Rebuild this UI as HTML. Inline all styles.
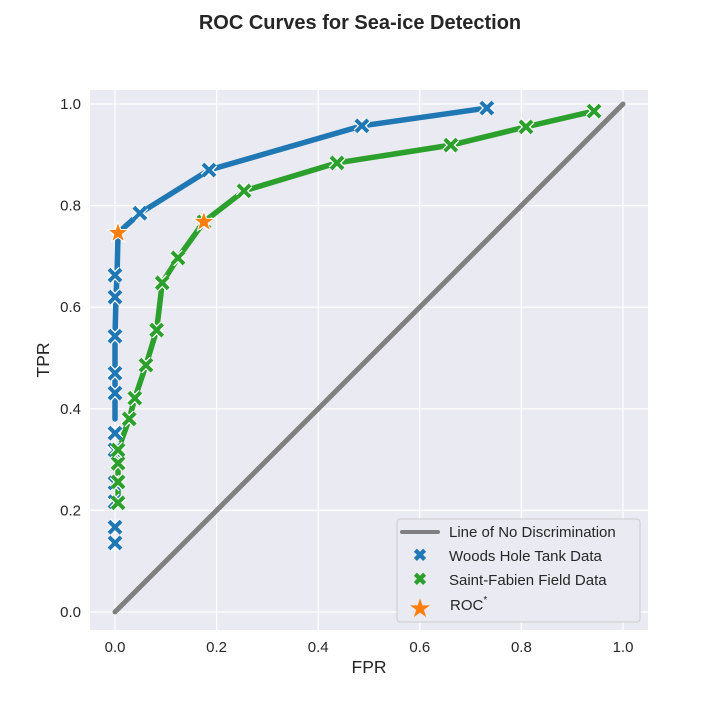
<!DOCTYPE html>
<html><head><meta charset="utf-8"><style>
body{margin:0;background:#fff;}
svg text{font-family:"Liberation Sans",Arial,sans-serif;fill:#262626;}
</style></head><body>
<svg id="chart" width="720" height="720" xmlns="http://www.w3.org/2000/svg">
<text x="360" y="29" text-anchor="middle" font-size="20" font-weight="bold">ROC Curves for Sea-ice Detection</text>
<rect x="90" y="90" width="558" height="540" fill="#eaeaf2"/>
<g id="grid"></g>
<g id="series"></g>
<text x="369" y="673" text-anchor="middle" font-size="17.5">FPR</text>
<text x="49" y="360" text-anchor="middle" font-size="17.5" transform="rotate(-90 49 360)">TPR</text>
<g>
<rect x="397" y="519" width="243" height="103" rx="3" fill="#eaeaf2" stroke="#cccccc" stroke-width="1"/>
<line x1="402" y1="532" x2="438" y2="532" stroke="#808080" stroke-width="4" stroke-linecap="round"/>
<text x="449" y="537" font-size="15">Line of No Discrimination</text>
<text x="420" y="561" text-anchor="middle" font-size="17" font-weight="bold" style="fill:#1f77b4">✖</text>
<text x="449" y="561" font-size="15">Woods Hole Tank Data</text>
<text x="420" y="585" text-anchor="middle" font-size="17" font-weight="bold" style="fill:#2ca02c">✖</text>
<text x="449" y="585" font-size="15">Saint-Fabien Field Data</text>
<text x="420" y="617" text-anchor="middle" font-size="26" style="fill:#ff7f0e">★</text>
<text x="450" y="610" font-size="15">ROC<tspan dy="-7" font-size="10">*</tspan></text>
</g>
</svg>
<script>
const tickValues=[0,0.2,0.4,0.6,0.8,1.0];
const tickLabels=["0.0","0.2","0.4","0.6","0.8","1.0"];
const whLineFPR=[0,0.000,0.002,0.004,0.006,0.049,0.185,0.486,0.732];
const whLineTPR=[0.38,0.543,0.620,0.663,0.746,0.785,0.870,0.957,0.992];
const whFPR=[0,0,0,0,0,0,0,0,0,0,0,0.049,0.185,0.486,0.732];
const whTPR=[0.136,0.167,0.217,0.254,0.319,0.352,0.431,0.470,0.543,0.620,0.663,0.785,0.870,0.957,0.992];
const sfFPR=[0.006,0.006,0.006,0.006,0.028,0.039,0.061,0.082,0.093,0.124,0.175,0.254,0.437,0.661,0.809,0.943];
const sfTPR=[0.215,0.256,0.293,0.319,0.380,0.421,0.486,0.555,0.648,0.697,0.768,0.829,0.884,0.919,0.955,0.986];
const starFPR=[0.006,0.175];
const starTPR=[0.746,0.768];
const X=v=>115+v*508, Y=v=>612-v*508;
const NS="http://www.w3.org/2000/svg";
const grid=document.getElementById('grid'), ser=document.getElementById('series'), svg=document.getElementById('chart');
function mk(t,a,p){const e=document.createElementNS(NS,t);for(const k in a)e.setAttribute(k,a[k]);(p||svg).appendChild(e);return e;}
tickValues.forEach((v,i)=>{
 let g=mk('line',{x1:X(v),x2:X(v),y1:90,y2:630,stroke:'#fff','stroke-width':1.2},grid);
 
 
 g=mk('line',{x1:90,x2:648,y1:Y(v),y2:Y(v),stroke:'#fff','stroke-width':1.2},grid);
 
 
 let t=mk('text',{x:X(v),y:652,'text-anchor':'middle','font-size':15});t.textContent=tickLabels[i];
 
 
 t=mk('text',{x:81,y:Y(v)+5,'text-anchor':'end','font-size':15});t.textContent=tickLabels[i];
 
 
});
let d=mk('line',{x1:X(0),y1:Y(0),x2:X(1),y2:Y(1),stroke:'#808080','stroke-width':5,'stroke-linecap':'round'},ser);


function line(xs,ys,c,name){const p=mk('polyline',{points:xs.map((x,i)=>X(x)+','+Y(ys[i])).join(' '),fill:'none',stroke:c,'stroke-width':5.5,'stroke-linejoin':'round','stroke-linecap':'round'},ser);
 
 }
function cross(x,y,c,name){const g=mk('g',{},ser);
 
 
 const s=6,cx=X(x),cy=Y(y);
 const dd=`M${cx-s},${cy-s}L${cx+s},${cy+s}M${cx+s},${cy-s}L${cx-s},${cy+s}`;
 mk('path',{d:dd,stroke:'#fff','stroke-width':6.5},g);
 mk('path',{d:dd,stroke:c,'stroke-width':4},g);}
line(whLineFPR,whLineTPR,'#1f77b4','woods-hole-line');
line(sfFPR,sfTPR,'#2ca02c','saint-fabien-line');
whFPR.forEach((x,i)=>cross(x,whTPR[i],'#1f77b4','woods-hole-point'));
sfFPR.forEach((x,i)=>cross(x,sfTPR[i],'#2ca02c','saint-fabien-point'));
starFPR.forEach((x,i)=>{const cx=X(x),cy=Y(starTPR[i]);let pts=[];for(let k=0;k<10;k++){const r=k%2?4.5:11,a=-Math.PI/2+k*Math.PI/5;pts.push((cx+r*Math.cos(a)).toFixed(1)+','+(cy+r*Math.sin(a)).toFixed(1));}
 const s=mk('polygon',{points:pts.join(' '),fill:'#ff7f0e',stroke:'#fff','stroke-width':1},ser);
 
 });
</script>
</body></html>
